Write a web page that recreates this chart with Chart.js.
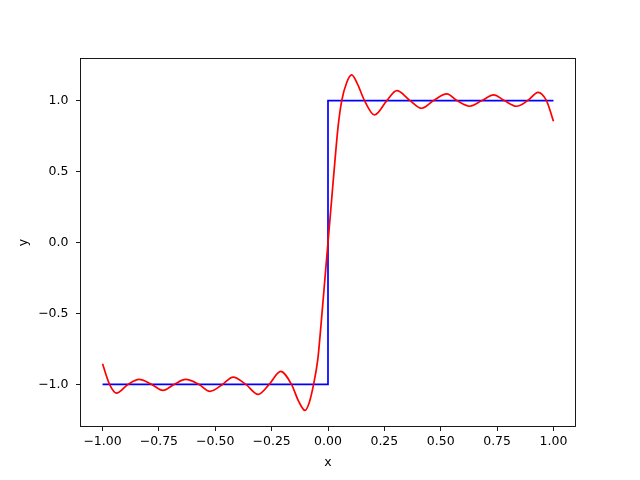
<!DOCTYPE html>
<html>
<head>
<meta charset="utf-8">
<script src="https://cdn.jsdelivr.net/npm/chart.js@4/dist/chart.umd.min.js"></script>
<style>
  html, body { margin: 0; padding: 0; background: #ffffff; }
  canvas { display: block; }
</style>
</head>
<body>
<canvas id="chart" width="640" height="480"></canvas>
<script>
// step function (blue)
const stepX = [-1.0, 0.0, 0.0, 1.0];
const stepY = [-1.0, -1.0, 1.0, 1.0];

// partial-sum approximation (red)
const approxX = [
    -1.000, -0.985, -0.969, -0.939, -0.887, -0.838, -0.782, -0.732, -0.683, -0.631,
    -0.572, -0.524, -0.468, -0.421, -0.364, -0.310, -0.261, -0.210, -0.162, -0.130,
    -0.102, -0.083, -0.064, -0.045, -0.031, -0.016, 0.000, 0.016, 0.031, 0.045,
    0.061, 0.083, 0.105, 0.130, 0.162, 0.206, 0.261, 0.305, 0.364, 0.416,
    0.468, 0.527, 0.572, 0.628, 0.683, 0.735, 0.782, 0.836, 0.886, 0.932,
    0.969, 0.985, 1.000
];
const approxY = [
    -0.854, -0.930, -1.000, -1.061, -1.000, -0.965, -1.000, -1.042, -1.000, -0.965,
    -1.000, -1.049, -1.000, -0.948, -1.000, -1.070, -1.000, -0.908, -1.000, -1.120,
    -1.183, -1.127, -1.000, -0.820, -0.580, -0.300, 0.000, 0.300, 0.580, 0.820,
    1.000, 1.127, 1.181, 1.120, 1.000, 0.899, 1.000, 1.070, 1.000, 0.946,
    1.000, 1.047, 1.000, 0.960, 1.000, 1.040, 1.000, 0.960, 1.000, 1.058,
    1.000, 0.930, 0.854
];

const xTicks = [-1.0, -0.75, -0.5, -0.25, 0.0, 0.25, 0.5, 0.75, 1.0];
const yTicks = [-1.0, -0.5, 0.0, 0.5, 1.0];

const toPoints = (xs, ys) => xs.map((x, i) => ({ x: x, y: ys[i] }));
const fmt = (v, d) => (v < 0 ? '\u2212' : '') + Math.abs(v).toFixed(d);

Chart.defaults.font.family = "'DejaVu Sans', sans-serif";
Chart.defaults.font.size = 12.5;
Chart.defaults.color = '#000000';

const frame = {
    id: 'frame',
    afterDraw(chart) {
        const a = chart.chartArea;
        const ctx = chart.ctx;
        ctx.save();
        ctx.strokeStyle = '#000000';
        ctx.lineWidth = 0.9;
        ctx.strokeRect(a.left + 0.5, a.top + 0.5, a.right - a.left - 1, a.bottom - a.top - 1);
        ctx.restore();
    }
};

new Chart(document.getElementById('chart'), {
    type: 'scatter',
    data: {
        datasets: [{
            label: 'approximation',
            data: toPoints(approxX, approxY),
            showLine: true,
            borderColor: '#ff0000',
            borderWidth: 1.7,
            pointRadius: 0,
            cubicInterpolationMode: 'monotone'
        }, {
            label: 'step',
            data: toPoints(stepX, stepY),
            showLine: true,
            borderColor: '#0000ff',
            borderWidth: 1.7,
            pointRadius: 0,
            tension: 0
        }]
    },
    options: {
        responsive: false,
        animation: false,
        layout: { padding: { top: 58, right: 64, left: 0, bottom: 0 } },
        plugins: {
            legend: { display: false },
            tooltip: { enabled: false }
        },
        scales: {
            x: {
                type: 'linear',
                min: -1.1,
                max: 1.1,
                afterBuildTicks: (scale) => { scale.ticks = xTicks.map(v => ({ value: v })); },
                afterFit: (scale) => { scale.height = 53; },
                grid: { drawOnChartArea: false, drawTicks: true, tickLength: 4, tickColor: '#000000', tickWidth: 0.9 },
                border: { display: false },
                ticks: { padding: 3, maxRotation: 0, callback: (v) => fmt(v, 2) },
                title: { display: true, text: 'x', padding: { top: 0, bottom: 10 } }
            },
            y: {
                type: 'linear',
                min: -1.3,
                max: 1.3,
                afterBuildTicks: (scale) => { scale.ticks = yTicks.map(v => ({ value: v })); },
                afterFit: (scale) => { scale.width = 80; },
                grid: { drawOnChartArea: false, drawTicks: true, tickLength: 4, tickColor: '#000000', tickWidth: 0.9 },
                border: { display: false },
                ticks: { padding: 7.5, callback: (v) => fmt(v, 1) },
                title: { display: true, text: 'y', padding: { top: 16, bottom: 0 } }
            }
        }
    },
    plugins: [frame]
});
</script>
</body>
</html>
